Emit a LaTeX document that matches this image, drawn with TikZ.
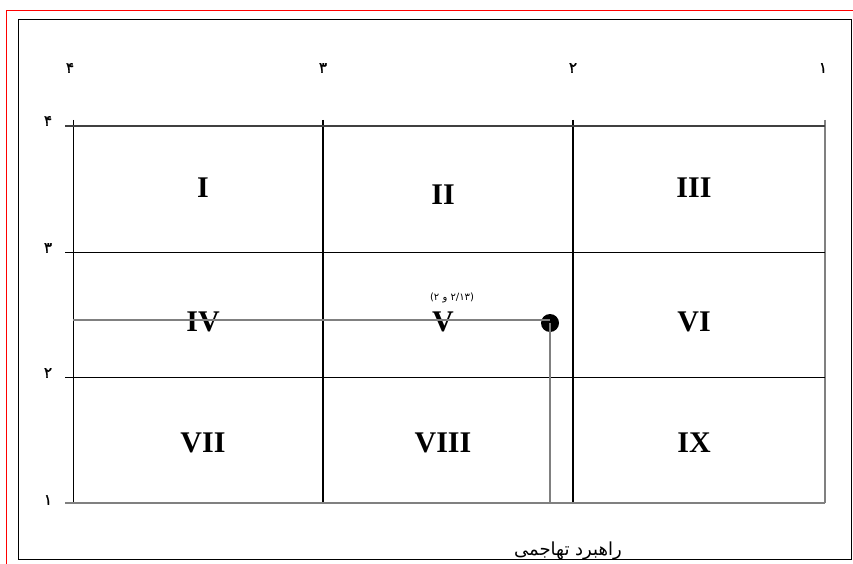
\documentclass[tikz,border=0pt]{standalone}
\usepackage{fontspec}
\setmainfont{Liberation Serif}
\newfontfamily\farsi[Script=Arabic]{DejaVu Sans}
\newfontfamily\farsibold[Script=Arabic,FakeBold=1.5]{DejaVu Sans}
\usepackage{tikz}
\TeXXeTstate=1

\begin{document}
\begin{tikzpicture}[x=1pt,y=-1pt,
            cellnum/.style={font=\fontsize{30}{30}\selectfont\bfseries, inner sep=0pt},
            axisnum/.style={font=\farsibold\fontsize{15}{15}\selectfont, inner sep=0pt},
            boldline/.style={line width=1.6pt,black},
            thinline/.style={line width=0.8pt,black},
            greyline/.style={line width=1.6pt,black!50},
            topline/.style={line width=1.6pt,black!75}]
        \useasboundingbox (0,0) rectangle (853,564);
        % page frame
        \draw[red,line width=1pt] (853,11) -- (6,11) -- (6,564);
        \draw[black,line width=1pt] (18,20) rectangle (851,559);

        % axis labels
        \foreach \n/\x in {4/70,3/323,2/573,1/823}
            \node[axisnum] (top\n) at (\x,68) {\ifcase\n\or ۱\or ۲\or ۳\or ۴\fi};
        \foreach \n/\y in {4/121,3/248,2/373,1/500}
            \node[axisnum] (left\n) at (48,\y) {\ifcase\n\or ۱\or ۲\or ۳\or ۴\fi};

        % grid
        \draw[thinline] (73,120) -- (73,503);
        \draw[boldline] (323,120) -- (323,503);
        \draw[boldline] (573,120) -- (573,503);
        \draw[greyline] (825,120) -- (825,503);
        \draw[topline] (65,126) -- (825,126);
        \draw[thinline] (65,252) -- (825,252);
        \draw[thinline] (65,377) -- (825,377);
        \draw[greyline] (65,503) -- (825,503);

        % cells
        \node[cellnum] (c1) at (203,188) {I};
        \node[cellnum] (c2) at (443,195) {II};
        \node[cellnum] (c3) at (694,188) {III};
        \node[cellnum] (c4) at (203,322) {IV};
        \node[cellnum] (c5) at (443,322) {V};
        \node[cellnum] (c6) at (694,322) {VI};
        \node[cellnum] (c7) at (203,443) {VII};
        \node[cellnum] (c8) at (443,443) {VIII};
        \node[cellnum] (c9) at (694,443) {IX};

        % position of the firm
        \coordinate (onx) at (73,320);
        \coordinate (ony) at (550,504);
        \node[circle,fill=black,inner sep=0pt,minimum size=18pt] (pt) at (550,323) {};
        \draw[greyline] (onx) -- (550,320);
        \draw[greyline] (pt.center) -- (ony);
        \node[font=\farsi\fontsize{10}{10}\selectfont,inner sep=0pt] (ptlabel) at (452,298) {\beginR(۲/۱۳ و ۲)\endR};

        \node[font=\farsi\fontsize{18}{18}\selectfont,inner sep=0pt,anchor=base] (strategy) at (568,555) {\beginR راهبرد تهاجمی\endR};
\end{tikzpicture}
\end{document}
